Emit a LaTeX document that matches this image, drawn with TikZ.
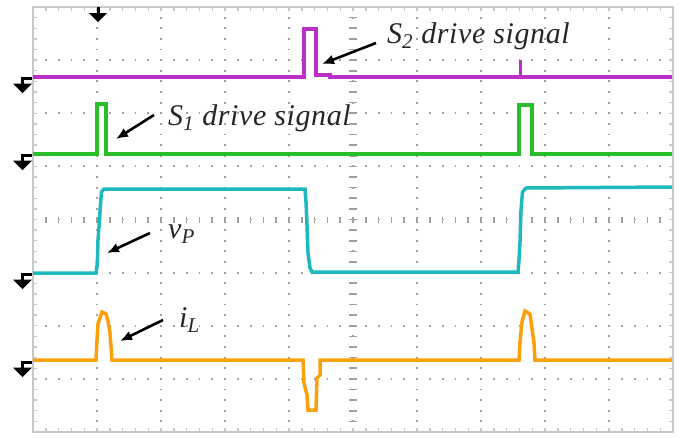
\documentclass[tikz,border=0pt]{standalone}
\usepackage{fontspec}
\setmainfont{Liberation Serif}
\newfontfamily\lblfont[LetterSpace=2]{Liberation Serif}
\usetikzlibrary{arrows.meta}

\definecolor{sigpurple}{RGB}{186,48,196}
\definecolor{siggreen}{RGB}{40,190,40}
\definecolor{sigcyan}{RGB}{30,185,190}
\definecolor{sigorange}{RGB}{250,160,10}
\definecolor{gridgray}{RGB}{160,160,160}
\definecolor{framegray}{RGB}{200,200,200}

\tikzset{
  trace/.style={line width=3.5pt, line join=miter},
  gridpts/.style={gridgray, line width=1.8pt},
  lbl/.style={font=\lblfont\fontsize{30}{36}\selectfont\itshape, text=black!85, inner sep=0pt, anchor=base west},
  pointer/.style={-{Latex[length=12pt,width=10pt]}, line width=2.6pt},
}

\begin{document}
\begin{tikzpicture}[x=1pt, y=-1pt]
		\useasboundingbox (0,0) rectangle (682,437);

		% grid
		\foreach \i in {1,...,9}
			\draw[gridpts, dash pattern=on 1.8pt off 8.825pt, dash phase=0.9pt] (33+64*\i,7) -- (33+64*\i,432);
		\foreach \j in {1,...,7}
			\draw[gridpts, dash pattern=on 1.8pt off 11pt, dash phase=0.9pt] (33,7+53.125*\j) -- (673,7+53.125*\j);
		\foreach \k in {1,...,49} {
			\draw[framegray, line width=1.4pt] (33+12.8*\k,7) -- (33+12.8*\k,11);
			\draw[framegray, line width=1.4pt] (33+12.8*\k,432) -- (33+12.8*\k,428);
			\draw[gridgray, line width=1.6pt] (33+12.8*\k,217) -- (33+12.8*\k,222.5);
		}
		\foreach \k in {1,...,39} {
			\draw[framegray, line width=1.4pt] (33,7+10.625*\k) -- (37,7+10.625*\k);
			\draw[framegray, line width=1.4pt] (673,7+10.625*\k) -- (669,7+10.625*\k);
			\draw[gridgray, line width=1.6pt] (349,7+10.625*\k) -- (357,7+10.625*\k);
		}
		\draw[framegray, line width=1.8pt] (33,7) rectangle (673,432);

		% S2
		\draw[trace, sigpurple] (33,77) -- (304,77) -- (304,29) -- (316,29) -- (316,75) -- (330,75) -- (330,77) -- (672,77);
		\draw[sigpurple, line width=3pt] (520,77) -- (520,60);
		\foreach \x in {140,162,417,455,512,583}
			\draw[sigpurple, line width=2pt] (\x,77) -- (\x,74.5);
		% S1
		\draw[trace, siggreen] (33,154) -- (97,154) -- (97,104) -- (106,104) -- (106,154)
			-- (519,154) -- (519,105) -- (532,105) -- (532,154) -- (672,154);
		% vP
		\draw[trace, sigcyan] (33,273) -- (96,273) -- (97,266) -- (97.5,258) -- (98,240) -- (99.5,220) -- (100.5,204) -- (101.5,192) -- (104,189)
			-- (305,189) -- (306,202) -- (307,225) -- (308,253) -- (310,268) -- (312,272)
			-- (518,272) -- (519,260) -- (520,242) -- (521,210) -- (522.5,192) -- (526,188) -- (672,187);
		% iL
		\draw[trace, sigorange] (33,360) -- (96,360) -- (97,340) -- (98,324) -- (100,318) -- (102,312) -- (106,314)
			-- (108,321) -- (110,333) -- (112,360)
			-- (303,360) -- (304,383) -- (307,395) -- (308,410) -- (316,410) -- (317,378) -- (320,375) -- (320,360)
			-- (519,360) -- (520,342) -- (522,322) -- (525,311) -- (530,314) -- (534,343) -- (535,360) -- (672,360);

		% ground markers
		\foreach \y in {77,154,273,361} {
			\draw[line width=3pt] (32,\y+1) -- (22.5,\y+1) -- (22.5,\y+8);
			\fill (13,\y+6.5) -- (32,\y+6.5) -- (22.5,\y+16) -- cycle;
		}
		% trigger marker
		\draw[line width=3pt] (98,7) -- (98,15);
		\fill (89,13) -- (107,13) -- (98,22) -- cycle;

		% labels
		\node[lbl] (stwo) at (387,43) {S\textsubscript{2} drive signal};
		\node[lbl] (sone) at (168,125) {S\textsubscript{1} drive signal};
		\node[lbl] (vp) at (168,238) {v\textsubscript{P}};
		\node[lbl] (il) at (179,327) {i\textsubscript{L}};

		\coordinate (stwotail) at (376,43);
		\coordinate (sonetail) at (154,115);
		\coordinate (vptail) at (150,233);
		\coordinate (iltail) at (163,320);
		\coordinate (stwotip) at (322,64);
		\coordinate (sonetip) at (116,139);
		\coordinate (vptip) at (107,253);
		\coordinate (iltip) at (120,341);

		\draw[pointer] (stwotail) -- (stwotip);
		\draw[pointer] (sonetail) -- (sonetip);
		\draw[pointer] (vptail) -- (vptip);
		\draw[pointer] (iltail) -- (iltip);
	\end{tikzpicture}
\end{document}
